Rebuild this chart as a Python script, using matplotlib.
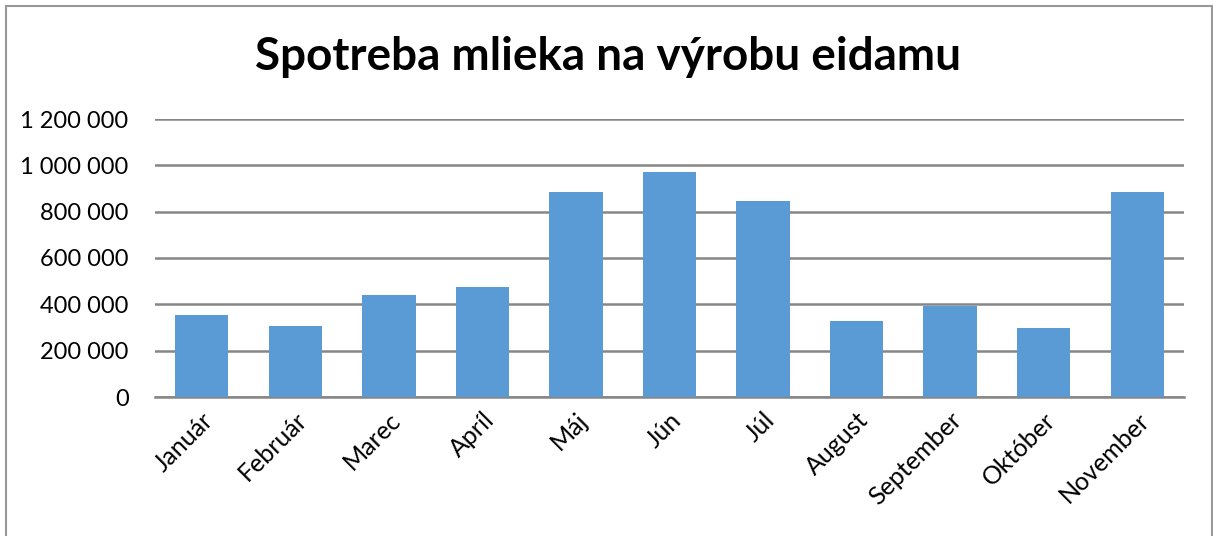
import matplotlib
matplotlib.use("Agg")
import matplotlib.pyplot as plt
from matplotlib.patches import Rectangle
from matplotlib.ticker import FuncFormatter

months = ["Január", "Február", "Marec", "Apríl", "Máj", "Jún", "Júl",
          "August", "September", "Október", "November"]
values = [352500, 306500, 438800, 476200, 884900, 972700, 844600,
          326600, 391400, 297800, 886300]
yticks = [0, 200000, 400000, 600000, 800000, 1000000, 1200000]

W, H = 1213, 536
fig = plt.figure(figsize=(W / 100, H / 100), dpi=100)
fig.patch.set_facecolor("white")

font = "Lato"
ax = fig.add_axes([155 / W, 1 - 397 / H, (1184 - 155) / W, (397 - 119) / H])
x = list(range(len(months)))
ax.bar(x, values, width=0.57, color="#5B9BD5", zorder=3)
ax.set_xlim(-0.5, len(months) - 0.5)
ax.set_ylim(0, 1200000)
ax.set_yticks(yticks)
ax.yaxis.set_major_formatter(FuncFormatter(lambda v, p: f"{int(v):,}".replace(",", " ")))
ax.grid(axis="y", color="#868686", linewidth=1.8, zorder=0)
for s in ["top", "right", "left"]:
    ax.spines[s].set_visible(False)
ax.spines["bottom"].set_color("#868686")
ax.spines["bottom"].set_linewidth(1.8)
ax.tick_params(axis="y", length=0, pad=19, labelsize=17)
ax.tick_params(axis="x", length=0, pad=8, labelsize=18)
ax.set_xticks(x)
ax.set_xticklabels(months, rotation=45, ha="right", va="top", rotation_mode="anchor")
for lbl in ax.get_xticklabels() + ax.get_yticklabels():
    lbl.set_fontfamily(font)
    lbl.set_color("black")

fig.text(608 / W, 1 - 57 / H, "Spotreba mlieka na výrobu eidamu",
         ha="center", va="center", fontsize=33, fontweight="bold", fontfamily=font)

fig.patches.append(Rectangle((5.5 / W, -0.05), (1212 - 5.5) / W, 1.05 - 6.5 / H,
                             transform=fig.transFigure, fill=False,
                             edgecolor="#999999", linewidth=1.5))

fig.savefig("out.png", dpi=100)
